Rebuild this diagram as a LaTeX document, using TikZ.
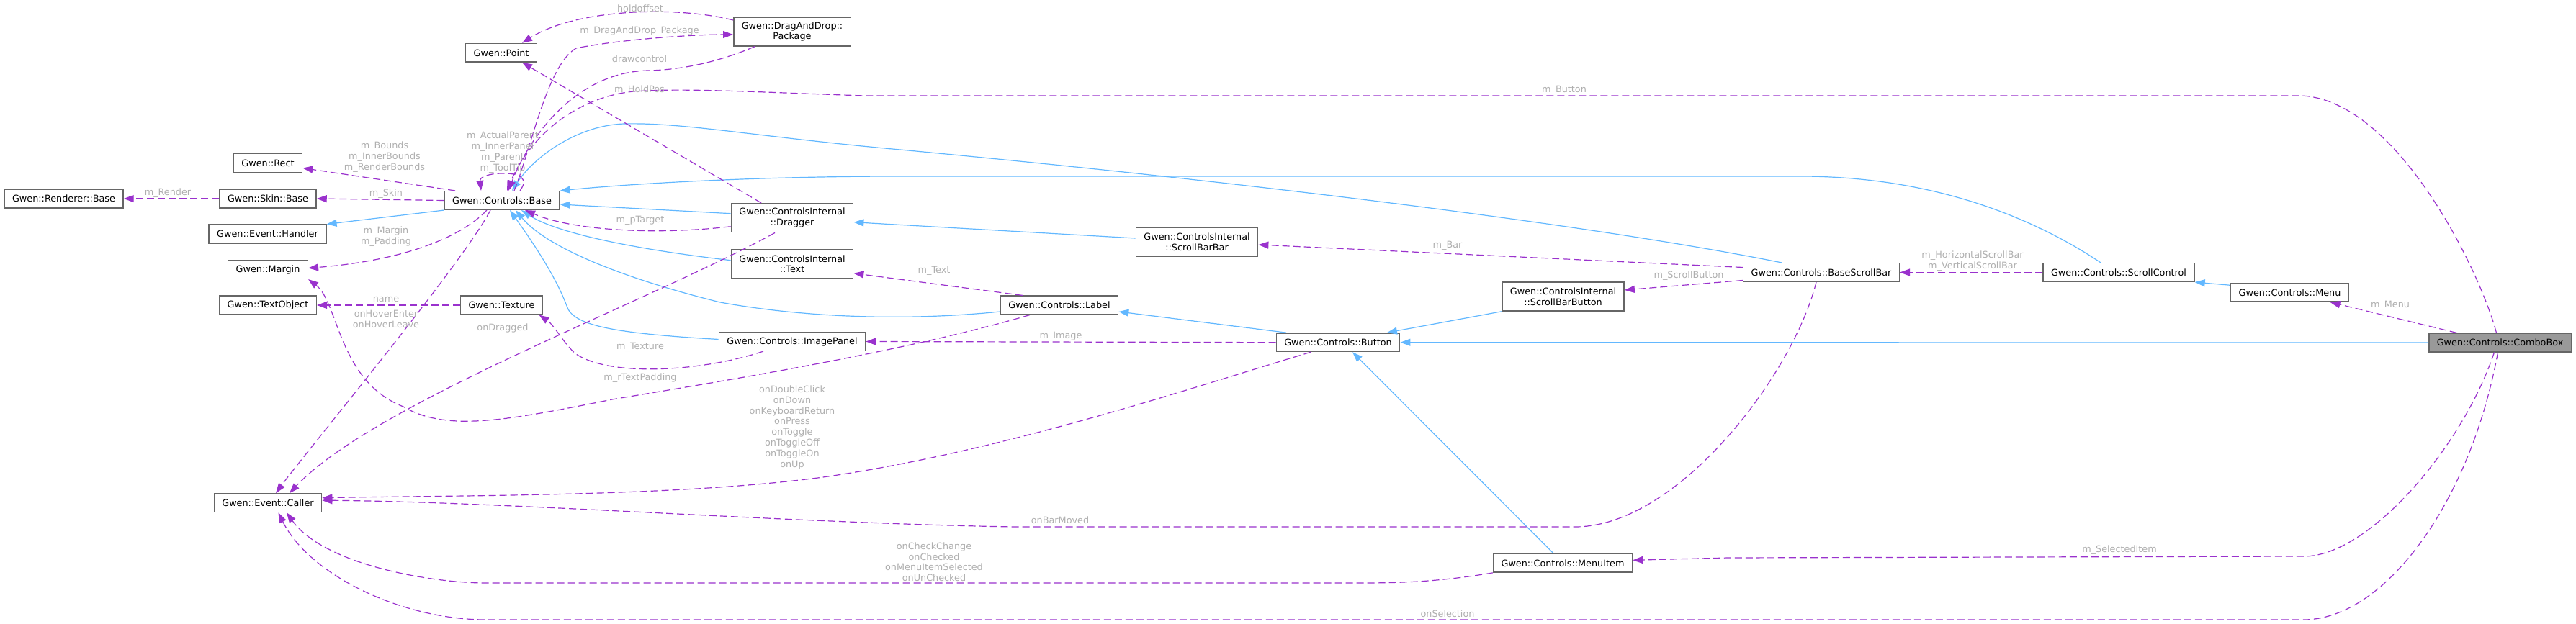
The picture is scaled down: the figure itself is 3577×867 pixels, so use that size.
\documentclass[tikz,border=0pt]{standalone}
\usepackage{fontspec}
\setmainfont{DejaVu Sans}
\usetikzlibrary{arrows.meta}
\definecolor{inhblue}{RGB}{99,184,255}
\definecolor{usepurple}{RGB}{154,50,205}
\definecolor{boxgray}{RGB}{102,102,102}
\definecolor{combogray}{RGB}{153,153,153}
\definecolor{labelgray}{RGB}{175,175,175}
\newcommand{\gwenfont}{\fontsize{12.8pt}{14.8pt}\selectfont}

\begin{document}
\begin{tikzpicture}[
  x=1pt, y=-1pt, font=\gwenfont,
  cls/.style={draw=boxgray, fill=white, line width=1.5pt, inner xsep=11pt, inner ysep=3pt, minimum height=25.6pt, align=center},
  twoline/.style={minimum height=40pt},
  inh/.style={draw=inhblue, line width=1.2pt, -{Triangle[length=14pt,width=10pt]}},
  member/.style={draw=usepurple, line width=1.2pt, dash pattern=on 10pt off 5pt, -{Triangle[length=14pt,width=10pt]}},
  lbl/.style={text=labelgray, align=center, inner sep=0pt},
]
\useasboundingbox (0,0) rectangle (3577,867);

% Classes
\node[cls] (ren) at (88.5,276) {Gwen::Renderer::Base};
\node[cls] (rect) at (372,226.5) {Gwen::Rect};
\node[cls] (skin) at (372,276) {Gwen::Skin::Base};
\node[cls] (handler) at (371.5,325) {Gwen::Event::Handler};
\node[cls] (margin) at (372,374.5) {Gwen::Margin};
\node[cls] (textobj) at (372,424) {Gwen::TextObject};
\node[cls] (caller) at (372,698.7) {Gwen::Event::Caller};
\node[cls] (cbase) at (697,278.5) {Gwen::Controls::Base};
\node[cls] (point) at (696,73.3) {Gwen::Point};
\node[cls] (texture) at (696.5,424) {Gwen::Texture};
\node[cls, twoline] (package) at (1100,44) {Gwen::DragAndDrop::\\Package};
\node[cls, twoline] (dragger) at (1100,302.7) {Gwen::ControlsInternal\\::Dragger};
\node[cls, twoline] (ctext) at (1100,366.7) {Gwen::ControlsInternal\\::Text};
\node[cls] (imgpanel) at (1100,474.5) {Gwen::Controls::ImagePanel};
\node[cls] (clabel) at (1471,424) {Gwen::Controls::Label};
\node[cls, twoline] (sbbar) at (1662,336) {Gwen::ControlsInternal\\::ScrollBarBar};
\node[cls] (button) at (1858,475.7) {Gwen::Controls::Button};
\node[cls, twoline] (sbbutton) at (2170.5,412) {Gwen::ControlsInternal\\::ScrollBarButton};
\node[cls] (menuitem) at (2170,782.3) {Gwen::Controls::MenuItem};
\node[cls] (bsb) at (2529,378.5) {Gwen::Controls::BaseScrollBar};
\node[cls] (scrollctl) at (2942,378.5) {Gwen::Controls::ScrollControl};
\node[cls] (menu) at (3179.5,406.3) {Gwen::Controls::Menu};
\node[cls, fill=combogray] (combo) at (3471.5,476) {Gwen::Controls::ComboBox};

% Inheritance
\draw[inh] (cbase.south west) -- (handler.north east);
\draw[inh] ([yshift=6pt]dragger.west) -- ([yshift=-5.5pt]cbase.east);
\draw[inh] ([yshift=5pt]ctext.west) .. controls (870,345) and (770,322) .. ([xshift=27pt]cbase.south);
\draw[inh] ([yshift=-9pt]clabel.west) .. controls (1250,447) and (1110,440) .. (1000,420)
  .. controls (870,388) and (760,345) .. ([xshift=19pt]cbase.south);
\draw[inh] ([yshift=3pt]imgpanel.west) .. controls (850,463) and (795,452) .. (787,425)
  .. controls (770,380) and (735,330) .. ([xshift=11pt]cbase.south);
\draw[inh] ([yshift=5pt]sbbar.west) -- ([yshift=-6pt]dragger.east);
\draw[inh] ([xshift=-55pt]bsb.north) .. controls (2200,310) and (1700,250) .. (1250,208)
  .. controls (1050,190) and (950,170) .. (867,172) .. controls (800,174) and (740,220) .. ([xshift=14pt]cbase.north);
\draw[inh] ([xshift=-25pt]scrollctl.north) .. controls (2820,300) and (2680,245) .. (2500,245) -- (1250,245)
  .. controls (1050,245) and (880,255) .. (cbase.north east);
\draw[inh] ([xshift=-72pt]button.north) -- ([yshift=-9pt]clabel.east);
\draw[inh] (sbbutton.south west) -- ([xshift=68pt]button.north);
\draw[inh] (combo.west) -- (button.east);
\draw[inh] ([xshift=-13pt]menuitem.north) -- ([xshift=20pt]button.south);
\draw[inh] ([yshift=10pt]menu.west) -- (scrollctl.south east);

% Members around Controls::Base
\draw[member] ([xshift=-65pt]cbase.north) -- ([yshift=-7pt]rect.east);
\draw[member] (skin.west) -- (ren.east);
\draw[member] (cbase.west) -- (skin.east);
\draw[member] ([xshift=-21pt]cbase.south) .. controls (640,330) and (560,362) .. ([yshift=2pt]margin.east);
\draw[member] (texture.west) -- (textobj.east);
\draw[member] ([xshift=-16pt]cbase.south) .. controls (641,368) and (428,624) .. ([xshift=11pt]caller.north);
\draw[member] ([xshift=25pt]cbase.north) .. controls (735,248) and (722,240) .. (695,241)
  .. controls (672,242) and (666,248) .. ([xshift=-29pt]cbase.north);
\draw[member] ([xshift=17pt]cbase.north) .. controls (738,205) and (760,90) .. (800,67)
  .. controls (860,55) and (960,48) .. ([yshift=-4pt]package.west);
\draw[member] ([xshift=-52pt]package.south) .. controls (1000,85) and (950,97) .. (900,98)
  .. controls (800,100) and (735,190) .. ([xshift=9pt]cbase.north);
\draw[member] ([yshift=16pt]package.west) .. controls (940,8) and (800,12) .. ([xshift=29pt]point.north);

% Members of the controls
\draw[member] ([xshift=-41pt]clabel.south) .. controls (1250,490) and (1000,530) .. (850,555)
  .. controls (700,585) and (620,600) .. (560,565) .. controls (470,530) and (470,420) .. (margin.south east);
\draw[member] (button.west) -- (imgpanel.east);
\draw[member] ([xshift=-40pt]imgpanel.south) .. controls (980,515) and (850,525) .. (800,492)
  .. controls (783,478) and (770,452) .. ([xshift=52pt]texture.south);
\draw[member] ([yshift=-12pt]dragger.west) .. controls (920,326) and (800,322) .. ([xshift=32pt]cbase.south);
\draw[member] ([xshift=-43pt]dragger.north) -- ([xshift=29pt]point.south);
\draw[member] ([xshift=-24pt]dragger.south) .. controls (900,420) and (520,560) .. ([xshift=30pt]caller.north);
\draw[member] ([xshift=-38pt]button.south) .. controls (1650,540) and (1400,625) .. (1150,662)
  .. controls (950,690) and (650,688) .. ([yshift=7pt]caller.east);
\draw[member] ([xshift=-7pt]bsb.south) .. controls (2490,520) and (2330,732) .. (2187,732) -- (1407,732)
  .. controls (1100,727) and (700,697) .. ([yshift=3.5pt]caller.east);
\draw[member] (menuitem.south west) .. controls (2000,808) and (1950,810) .. (1889,810) -- (674,810)
  .. controls (600,810) and (450,785) .. ([xshift=26pt]caller.south);
\draw[member] ([xshift=-60pt]combo.north) -- ([xshift=56pt]menu.south);
\draw[member] (scrollctl.west) -- (bsb.east);
\draw[member] ([yshift=7pt]bsb.west) -- ([yshift=-4pt]sbbar.east);
\draw[member] ([yshift=-11pt]bsb.west) -- ([yshift=9pt]sbbutton.east);
\draw[member] ([xshift=-51pt]clabel.north) -- ([yshift=-13pt]ctext.east);
\draw[member] ([xshift=-8pt]combo.south) .. controls (3420,620) and (3290,773) .. (3199,773) -- (2400,775)
  -- ([yshift=4pt]menuitem.east);
\draw[member] ([xshift=-3pt]combo.south) .. controls (3430,700) and (3310,861) .. (3199,861) -- (674,861)
  .. controls (560,861) and (430,800) .. ([xshift=14.5pt]caller.south);
\draw[member] ([xshift=-5pt]combo.north) .. controls (3445,380) and (3330,140) .. (3196,133) -- (1200,133)
  .. controls (1050,128) and (950,122) .. (880,127) .. controls (800,135) and (735,190) .. ([xshift=7pt]cbase.north);

% Edge labels
\node[lbl] (lbounds) at (534,218) {m\_Bounds\\m\_InnerBounds\\m\_RenderBounds};
\node[lbl] (lrender) at (233,268) {m\_Render};
\node[lbl] (lskin) at (536,269) {m\_Skin};
\node[lbl] (lmargin) at (536,328.5) {m\_Margin\\m\_Padding};
\node[lbl] (lname) at (536,416) {name};
\node[lbl] (lhover) at (536,443.5) {onHoverEnter\\onHoverLeave};
\node[lbl] (ldragged) at (698,456) {onDragged};
\node[lbl] (lparent) at (698,211.5) {m\_ActualParent\\m\_InnerPanel\\m\_Parent\\m\_ToolTip};
\node[lbl] (lholdoff) at (889,12) {holdoffset};
\node[lbl] (lpackage) at (888,43.5) {m\_DragAndDrop\_Package};
\node[lbl] (ldrawctl) at (888,82) {drawcontrol};
\node[lbl] (lholdpos) at (888,125) {m\_HoldPos};
\node[lbl] (ltarget) at (889,306.7) {m\_pTarget};
\node[lbl] (ltexture) at (889,482) {m\_Texture};
\node[lbl] (lpadding) at (889,525) {m\_rTextPadding};
\node[lbl] (ltext) at (1297,376) {m\_Text};
\node[lbl] (lbtnevt) at (1100,593.7) {onDoubleClick\\onDown\\onKeyboardReturn\\onPress\\onToggle\\onToggleOff\\onToggleOn\\onUp};
\node[lbl] (limage) at (1473,467) {m\_Image};
\node[lbl] (lbar) at (2010,341) {m\_Bar};
\node[lbl] (lbutton) at (2172,125) {m\_Button};
\node[lbl] (lsbbutton) at (2345,383) {m\_ScrollButton};
\node[lbl] (lscroll) at (2739,363) {m\_HorizontalScrollBar\\m\_VerticalScrollBar};
\node[lbl] (lmenu) at (3319,424) {m\_Menu};
\node[lbl] (lbarmoved) at (1472,723) {onBarMoved};
\node[lbl] (lcheck) at (1297,780.7) {onCheckChange\\onChecked\\onMenuItemSelected\\onUnChecked};
\node[lbl] (lselection) at (2010,853) {onSelection};
\node[lbl] (lselitem) at (2943,764) {m\_SelectedItem};
\end{tikzpicture}
\end{document}
